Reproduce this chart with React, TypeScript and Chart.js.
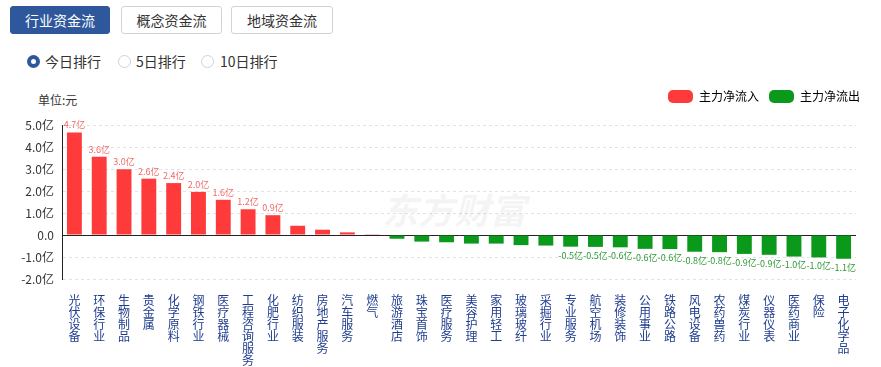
import React, { useEffect, useRef } from 'react';
import { Chart, registerables } from 'chart.js';

Chart.register(...registerables);

const categories = [
  '光伏设备', '环保行业', '生物制品', '贵金属', '化学原料', '钢铁行业', '医疗器械', '工程咨询服务',
  '化肥行业', '纺织服装', '房地产服务', '汽车服务', '燃气', '旅游酒店', '珠宝首饰', '医疗服务',
  '美容护理', '家用轻工', '玻璃玻纤', '采掘行业', '专业服务', '航空机场', '装修装饰', '公用事业',
  '铁路公路', '风电设备', '农药兽药', '煤炭行业', '仪器仪表', '医药商业', '保险', '电子化学品',
];
const netFlow = [
  4.66, 3.56, 2.99, 2.56, 2.36, 1.96, 1.6, 1.17,
  0.9, 0.42, 0.24, 0.12, 0.01, -0.17, -0.3, -0.33,
  -0.39, -0.39, -0.46, -0.48, -0.53, -0.54, -0.56, -0.63,
  -0.64, -0.76, -0.78, -0.86, -0.9, -0.98, -1.02, -1.08,
];
const legendNames = ['主力净流入', '主力净流出'];
const tabNames = ['行业资金流', '概念资金流', '地域资金流'];
const rankNames = ['今日排行', '5日排行', '10日排行'];
const unitText = '单位:元';
const watermarkText = '东方财富';
const yMin = -2;
const yMax = 5;
const labelThreshold = 0.5;

const RED = '#ff3a3a';
const GREEN = '#0b991c';
const BLUE = '#2e589b';
const FONT = '"Noto Sans CJK SC", "Noto Sans", sans-serif';

const legendTweak = {
  id: 'legendTweak',
  beforeInit(chart: any) {
    const lg = chart.legend;
    const origFit = lg.fit;
    lg.fit = function () {
      origFit.bind(this)();
      this.height = 45;
    };
    const origDraw = lg.draw;
    lg.draw = function () {
      const ctx = this.ctx;
      ctx.save();
      ctx.translate(14, 0);
      origDraw.bind(this)();
      ctx.restore();
    };
  },
};

const watermark = {
  id: 'watermark',
  beforeDatasetsDraw(chart: any) {
    const ctx = chart.ctx;
    ctx.save();
    ctx.font = `italic bold 36px ${FONT}`;
    ctx.fillStyle = 'rgba(0,0,0,0.045)';
    ctx.textBaseline = 'middle';
    ctx.textAlign = 'left';
    ctx.fillText(watermarkText, 382, 130);
    ctx.restore();
  },
};

const valueLabels = {
  id: 'valueLabels',
  afterDatasetsDraw(chart: any) {
    const ctx = chart.ctx;
    const meta = chart.getDatasetMeta(0);
    ctx.save();
    ctx.font = `9px ${FONT}`;
    ctx.textAlign = 'center';
    meta.data.forEach((bar: any, i: number) => {
      const v = netFlow[i];
      if (Math.abs(v) < labelThreshold) return;
      const txt = v.toFixed(1) + '亿';
      if (v > 0) {
        ctx.fillStyle = '#f36868';
        ctx.textBaseline = 'bottom';
        ctx.fillText(txt, bar.x, bar.y - 3);
      } else {
        ctx.fillStyle = '#2f9a34';
        ctx.textBaseline = 'top';
        ctx.fillText(txt, bar.x, bar.y + 4);
      }
    });
    ctx.restore();
  },
};

function FlowChart() {
  const ref = useRef<HTMLCanvasElement>(null);
  useEffect(() => {
    if (!ref.current) return;
    const chart = new Chart(ref.current, {
      type: 'bar',
      data: {
        labels: categories.map((c) => c.split('')),
        datasets: [
          {
            data: netFlow,
            backgroundColor: netFlow.map((v) => (v >= 0 ? RED : GREEN)),
            barPercentage: 0.6,
            categoryPercentage: 1,
          },
        ],
      },
      options: {
        responsive: false,
        animation: false,
        layout: { padding: { left: 0, right: 25, top: 0, bottom: 0 } },
        plugins: {
          legend: {
            position: 'top',
            align: 'end',
            onClick: () => {},
            labels: {
              boxWidth: 25,
              boxHeight: 13,
              useBorderRadius: true,
              borderRadius: 5,
              padding: 10,
              color: '#333',
              font: { size: 12, family: FONT },
              generateLabels: () => [
                { text: legendNames[0], fillStyle: RED, strokeStyle: RED, lineWidth: 0, hidden: false, datasetIndex: 0, borderRadius: 5 },
                { text: legendNames[1], fillStyle: GREEN, strokeStyle: GREEN, lineWidth: 0, hidden: false, datasetIndex: 0, borderRadius: 5 },
              ],
            },
          },
          tooltip: { enabled: false },
        },
        scales: {
          x: {
            grid: { display: false },
            border: { display: false },
            ticks: {
              autoSkip: false,
              maxRotation: 0,
              minRotation: 0,
              padding: 7,
              color: '#1f3d8f',
              font: { size: 12, family: FONT, lineHeight: 1.0 },
            },
            afterFit: (s: any) => {
              s.height = 88;
            },
          },
          y: {
            min: yMin,
            max: yMax,
            ticks: {
              stepSize: 1,
              padding: 8,
              color: '#333',
              font: { size: 12, family: FONT },
              callback: (v: any) => (Number(v) === 0 ? '0.0' : Number(v).toFixed(1) + '亿'),
            },
            grid: {
              color: (c: any) => (c.tick && c.tick.value === 0 ? '#222' : '#e2e2e2'),
              lineWidth: 1,
              drawTicks: false,
            },
            border: {
              display: true,
              color: '#222',
              dash: (c: any) => (c.tick && c.tick.value === 0 ? [] : [3, 3]),
            },
            afterFit: (s: any) => {
              s.width = 62;
            },
          },
        },
      } as any,
      plugins: [legendTweak, watermark, valueLabels],
    });
    return () => chart.destroy();
  }, []);
  return (
    <canvas
      ref={ref}
      width={881}
      height={287}
      style={{ position: 'absolute', left: 0, top: 80, width: 881, height: 287, display: 'block' }}
    />
  );
}

export default function App() {
  const tabLefts = [10, 121, 231];
  const tabWidths = [100, 101, 102];
  const radioCenters = [33, 124, 207];
  const radioTextLefts = [45, 136, 220];
  return (
    <div
      style={{
        position: 'fixed',
        left: 0,
        top: 0,
        width: 881,
        height: 367,
        background: '#fff',
        fontFamily: FONT,
        overflow: 'hidden',
      }}
    >
      {tabNames.map((t, i) => (
        <div
          key={t}
          style={{
            position: 'absolute',
            left: tabLefts[i],
            top: 6,
            width: tabWidths[i],
            height: 28,
            boxSizing: 'border-box',
            borderRadius: 3,
            background: i === 0 ? BLUE : '#fff',
            border: i === 0 ? `1px solid ${BLUE}` : '1px solid #cfd3da',
            color: i === 0 ? '#fff' : '#333',
            fontSize: 14,
            lineHeight: '26px',
            textAlign: 'center',
          }}
        >
          {t}
        </div>
      ))}
      {rankNames.map((r, i) => (
        <React.Fragment key={r}>
          <div
            style={{
              position: 'absolute',
              left: radioCenters[i] - 6.5,
              top: 61 - 6.5,
              width: 13,
              height: 13,
              boxSizing: 'border-box',
              borderRadius: '50%',
              border: i === 0 ? `4px solid ${BLUE}` : '1px solid #cdd3dc',
              background: '#fff',
            }}
          />
          <div
            style={{
              position: 'absolute',
              left: radioTextLefts[i],
              top: 51,
              fontSize: 14,
              lineHeight: '20px',
              color: '#333',
              whiteSpace: 'nowrap',
            }}
          >
            {r}
          </div>
        </React.Fragment>
      ))}
      <div
        style={{
          position: 'absolute',
          left: 38,
          top: 91,
          fontSize: 12,
          lineHeight: '18px',
          color: '#333',
        }}
      >
        {unitText}
      </div>
      <FlowChart />
    </div>
  );
}
